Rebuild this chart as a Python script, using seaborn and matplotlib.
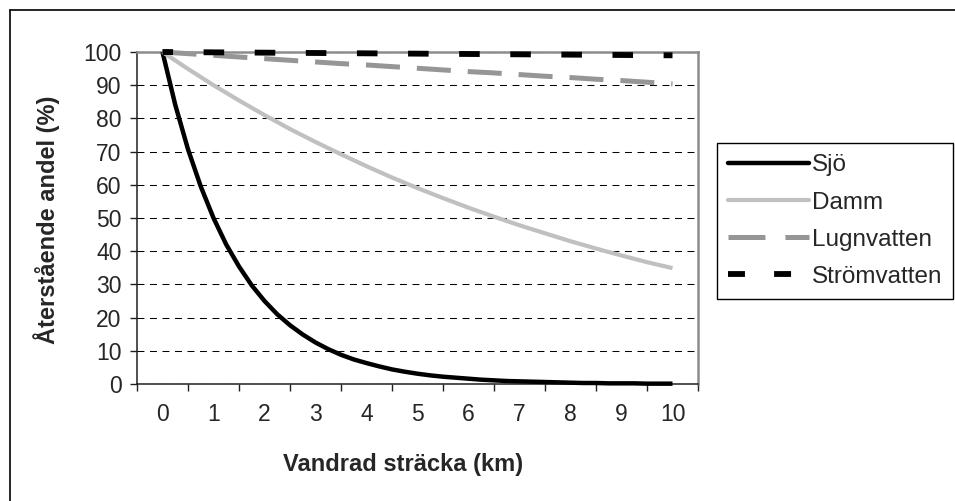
import numpy as np
import pandas as pd
import matplotlib
matplotlib.use("Agg")
import matplotlib.pyplot as plt
from matplotlib.lines import Line2D
import seaborn as sns

# Distance travelled (km)
distance_fine = np.arange(0, 10.01, 0.25)
distance = np.arange(0, 10.01, 0.5)
x_labels = [str(i) for i in range(11)]

# Remaining share (%) per habitat type
sjo = [100, 84.1, 70.7, 59.5, 50.0, 42.0, 35.4, 29.7, 25.0, 21.0, 17.7, 14.9,
       12.5, 10.5, 8.8, 7.4, 6.3, 5.3, 4.4, 3.7, 3.1, 2.6, 2.2, 1.9, 1.6, 1.3,
       1.1, 0.9, 0.8, 0.7, 0.6, 0.5, 0.4, 0.3, 0.3, 0.2, 0.2, 0.2, 0.1, 0.1, 0.1]
damm = [100, 94.9, 90.0, 85.4, 81.0, 76.8, 72.9, 69.2, 65.6, 62.2, 59.0,
        56.0, 53.1, 50.4, 47.8, 45.4, 43.0, 40.8, 38.7, 36.7, 34.9]
lugnvatten = [100, 99.5, 99.0, 98.5, 98.0, 97.5, 97.0, 96.5, 96.1, 95.6, 95.1,
              94.6, 94.1, 93.7, 93.2, 92.7, 92.3, 91.8, 91.4, 90.9, 90.4]
stromvatten = [100, 99.95, 99.9, 99.85, 99.8, 99.75, 99.7, 99.65, 99.6, 99.55,
               99.5, 99.45, 99.4, 99.35, 99.3, 99.25, 99.2, 99.15, 99.1, 99.05, 99.0]

series_names = ["Sjö", "Damm", "Lugnvatten", "Strömvatten"]

sns.set_style("white")
plt.rcParams["font.family"] = ["Liberation Sans", "DejaVu Sans"]
plt.rcParams["lines.scale_dashes"] = False

W, H = 955, 501
fig = plt.figure(figsize=(W / 100, H / 100), dpi=100)
ax = fig.add_axes([137 / W, 1 - 384 / H, (698 - 137) / W, (384 - 52) / H])

df_fine = pd.DataFrame({"km": distance_fine, "Sjö": sjo})
df = pd.DataFrame({"km": distance, "Damm": damm, "Lugnvatten": lugnvatten,
                   "Strömvatten": stromvatten})

sns.lineplot(data=df_fine, x="km", y="Sjö", ax=ax, color="black", lw=3.2,
             solid_capstyle="butt", zorder=3)
sns.lineplot(data=df, x="km", y="Damm", ax=ax, color="#c0c0c0", lw=3.0,
             solid_capstyle="butt", zorder=3)
sns.lineplot(data=df, x="km", y="Lugnvatten", ax=ax, color="#969696", lw=3.6,
             zorder=3)
ax.lines[-1].set_linestyle((0, (24.5, 12.2)))
sns.lineplot(data=df, x="km", y="Strömvatten", ax=ax, color="black", lw=4.2,
             zorder=3)
ax.lines[-1].set_linestyle((7.2, (14.8, 22.0)))
for ln in ax.lines:
    ln.set_clip_on(False)

ax.set_xlim(-0.5, 10.5)
ax.set_ylim(0, 100)
ax.set_xticks(range(11))
ax.set_xticklabels(x_labels)
ax.set_xticks(np.arange(-0.5, 10.6, 1), minor=True)
ax.set_yticks(range(0, 101, 10))
ax.tick_params(axis="x", which="major", length=0, pad=14, labelsize=16.5)
ax.tick_params(axis="x", which="minor", length=5, width=1, direction="out",
               bottom=True, color="#202020")
ax.tick_params(axis="y", which="major", length=5, width=1, direction="out",
               left=True, pad=6, labelsize=16.5, color="#202020")

ax.yaxis.grid(True, color="black", lw=0.75, linestyle=(0, (5, 4)))
ax.xaxis.grid(False)
ax.set_axisbelow(True)

for side in ("left", "bottom"):
    ax.spines[side].set_color("#202020")
    ax.spines[side].set_linewidth(1.1)
for side in ("top", "right"):
    ax.spines[side].set_color("#8c8c8c")
    ax.spines[side].set_linewidth(1.8)

ax.set_xlabel("Vandrad sträcka (km)", fontsize=17, fontweight="bold",
              va="center")
ax.set_ylabel("Återstående andel (%)", fontsize=17, fontweight="bold",
              va="center")
ax.xaxis.set_label_coords((403 - 137) / 561, (384 - 464) / 332)
ax.yaxis.set_label_coords((47 - 137) / 561, (384 - 220) / 332)

handles = [
    Line2D([], [], color="black", lw=3.2),
    Line2D([], [], color="#c0c0c0", lw=3.0),
    Line2D([], [], color="#969696", lw=3.6, linestyle=(0, (26.6, 14.4))),
    Line2D([], [], color="black", lw=4.2, linestyle=(0, (12.2, 21.0))),
]
leg = fig.legend(handles, series_names, loc="upper left",
                 bbox_to_anchor=(717 / W, 1 - 143 / H),
                 bbox_transform=fig.transFigure, borderaxespad=0,
                 fontsize=17.5, frameon=True, fancybox=False, framealpha=1,
                 edgecolor="black", handlelength=3.3, handletextpad=0.12,
                 borderpad=0.47, labelspacing=0.62)
leg.get_frame().set_linewidth(1.0)

# Chart area border (left and top edges)
fig.add_artist(Line2D([9.5 / W, 9.5 / W], [0, 1 - 9.5 / H], color="black",
                      lw=1.2, transform=fig.transFigure))
fig.add_artist(Line2D([9.5 / W, 1], [1 - 9.5 / H, 1 - 9.5 / H], color="black",
                      lw=1.2, transform=fig.transFigure))

fig.savefig("out.png", dpi=100, facecolor="white")
